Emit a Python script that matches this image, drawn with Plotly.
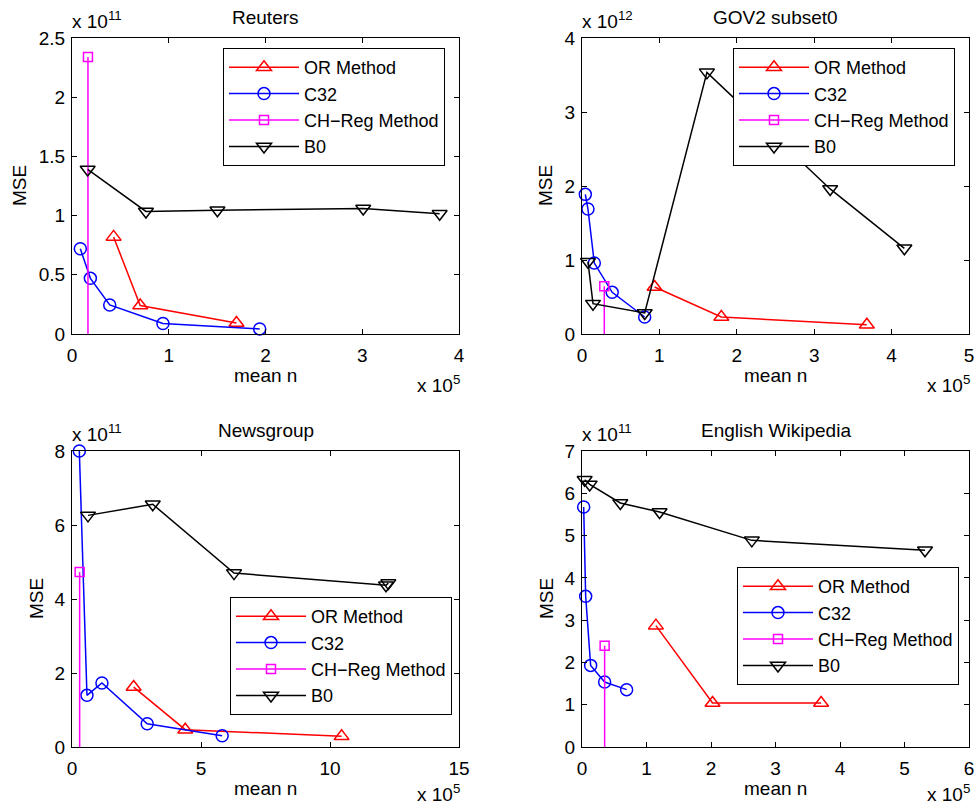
import plotly.graph_objects as go

W, H = 977, 807
FONT = "Liberation Sans, Arial, Helvetica, sans-serif"
FS = 19
LFS = 18

# ---------------- data (x in units of 1e5, y in units of 1e11 / 1e12) ----------------
series_names = ["OR Method", "C32", "CH\u2212Reg Method", "B0"]
titles = ["Reuters", "GOV2 subset0", "Newsgroup", "English Wikipedia"]
y_exponents = ["11", "12", "11", "11"]
x_exponent = "5"

# Reuters
reuters_or_x = [0.43, 0.705, 1.70]
reuters_or_y = [0.82, 0.24, 0.093]
reuters_c32_x = [0.086, 0.19, 0.39, 0.94, 1.94]
reuters_c32_y = [0.72, 0.47, 0.245, 0.088, 0.043]
reuters_ch_x = [0.165, 0.165]
reuters_ch_y = [2.34, -1.0]
reuters_b0_x = [0.162, 0.764, 1.503, 3.01, 3.80]
reuters_b0_y = [1.39, 1.035, 1.045, 1.06, 1.015]

# GOV2 subset0
gov2_or_x = [0.938, 1.80, 3.68]
gov2_or_y = [0.635, 0.23, 0.126]
gov2_c32_x = [0.043, 0.077, 0.159, 0.39, 0.81]
gov2_c32_y = [1.887, 1.689, 0.959, 0.563, 0.23]
gov2_ch_x = [0.288, 0.288]
gov2_ch_y = [0.644, -1.0]
gov2_b0_x = [0.077, 0.142, 0.81, 1.614, 3.206, 4.165]
gov2_b0_y = [0.977, 0.41, 0.284, 3.536, 1.96, 1.158]

# Newsgroup
news_or_x = [2.39, 4.39, 10.45]
news_or_y = [1.62, 0.468, 0.288]
news_c32_x = [0.284, 0.58, 1.16, 2.915, 5.82]
news_c32_y = [8.0, 1.396, 1.73, 0.63, 0.306]
news_ch_x = [0.297, 0.297]
news_ch_y = [4.73, -1.0]
news_b0_x = [0.62, 3.13, 6.28, 12.17, 12.26]
news_b0_y = [6.26, 6.56, 4.70, 4.37, 4.43]

# English Wikipedia
wiki_or_x = [1.146, 2.024, 3.707]
wiki_or_y = [2.87, 1.04, 1.04]
wiki_c32_x = [0.026, 0.057, 0.134, 0.351, 0.692]
wiki_c32_y = [5.676, 3.563, 1.93, 1.537, 1.356]
wiki_ch_x = [0.351, 0.351]
wiki_ch_y = [2.396, -1.0]
wiki_b0_x = [0.041, 0.119, 0.594, 1.203, 2.633, 5.318]
wiki_b0_y = [6.32, 6.21, 5.77, 5.557, 4.887, 4.651]

x_ranges = [[0, 4], [0, 5], [0, 15], [0, 6]]
x_dticks = [1, 1, 5, 1]
y_ranges = [[0, 2.5], [0, 4], [0, 8], [0, 7]]
y_dticks = [0.5, 1, 2, 1]

panels = [
    [(reuters_or_x, reuters_or_y), (reuters_c32_x, reuters_c32_y), (reuters_ch_x, reuters_ch_y), (reuters_b0_x, reuters_b0_y)],
    [(gov2_or_x, gov2_or_y), (gov2_c32_x, gov2_c32_y), (gov2_ch_x, gov2_ch_y), (gov2_b0_x, gov2_b0_y)],
    [(news_or_x, news_or_y), (news_c32_x, news_c32_y), (news_ch_x, news_ch_y), (news_b0_x, news_b0_y)],
    [(wiki_or_x, wiki_or_y), (wiki_c32_x, wiki_c32_y), (wiki_ch_x, wiki_ch_y), (wiki_b0_x, wiki_b0_y)],
]

colors = ["#FF0000", "#0000FF", "#FF00FF", "#000000"]
symbols = ["triangle-up-open", "circle-open", "square-open", "triangle-down-open"]
msizes = [13, 12, 9, 13]

# ---------------- layout geometry (pixels) ----------------
def px(x):
    return x / W

def py(y):
    return 1 - y / H

# plot areas: (left, right, top, bottom) in pixels
areas = [(72, 459, 38, 334), (582, 969, 38, 334), (72, 459, 451, 747), (582, 969, 451, 747)]
legend_pos = [(223, 48), (733, 48), (230, 597), (737, 567)]
ylabel_x = [20, 546, 36, 546]
xexp_bottom = [398, 398, 807, 807]

fig = go.Figure()
annotations = []
layout_axes = {}

for i, (area, data) in enumerate(zip(areas, panels)):
    l, r, t, b = area
    k = "" if i == 0 else str(i + 1)
    leg = "legend" if i == 0 else "legend" + str(i + 1)
    for j, (xs, ys) in enumerate(data):
        fig.add_trace(go.Scatter(
            x=xs, y=ys, mode="lines+markers", name=series_names[j],
            line=dict(color=colors[j], width=1.5),
            marker=dict(symbol=symbols[j], size=msizes[j], color=colors[j],
                        line=dict(width=1.5, color=colors[j])),
            xaxis="x" + k, yaxis="y" + k, legend=leg,
            cliponaxis=(j == 2),
        ))
    axstyle = dict(showgrid=False, zeroline=False, showline=True, linecolor="black",
                   linewidth=1, mirror="allticks", ticks="inside", ticklen=5,
                   tickwidth=1, tickcolor="black", automargin=False,
                   tickfont=dict(family=FONT, size=FS, color="black"))
    layout_axes["xaxis" + k] = dict(domain=[px(l), px(r)], range=x_ranges[i], dtick=x_dticks[i],
                                    tick0=0, anchor="y" + k, ticklabelstandoff=4, **axstyle)
    layout_axes["yaxis" + k] = dict(domain=[py(b), py(t)], range=y_ranges[i], dtick=y_dticks[i],
                                    tick0=0, anchor="x" + k, ticklabelstandoff=2, **axstyle)
    cx = (l + r) / 2
    # title
    annotations.append(dict(text=titles[i], x=px(cx), y=py(t - 21), xref="paper", yref="paper",
                            xanchor="center", yanchor="middle", showarrow=False,
                            font=dict(family=FONT, size=FS, color="black")))
    # x label
    annotations.append(dict(text="mean n", x=px(cx), y=py(b + 41), xref="paper", yref="paper",
                            xanchor="center", yanchor="middle", showarrow=False,
                            font=dict(family=FONT, size=FS, color="black")))
    # y label
    annotations.append(dict(text="MSE", x=px(ylabel_x[i]), y=py((t + b) / 2), xref="paper", yref="paper",
                            xanchor="center", yanchor="middle", showarrow=False, textangle=-90,
                            font=dict(family=FONT, size=FS, color="black")))
    # y exponent
    annotations.append(dict(text="x 10<sup>" + y_exponents[i] + "</sup>", x=px(l - 2), y=py(t - 4),
                            xref="paper", yref="paper", xanchor="left", yanchor="bottom",
                            showarrow=False, font=dict(family=FONT, size=FS, color="black")))
    # x exponent
    annotations.append(dict(text="x 10<sup>" + x_exponent + "</sup>", x=px(r + 3), y=py(xexp_bottom[i]),
                            xref="paper", yref="paper", xanchor="right", yanchor="bottom",
                            showarrow=False, font=dict(family=FONT, size=FS, color="black")))
    lx, ly = legend_pos[i]
    layout_axes[leg] = dict(x=px(lx), y=py(ly), xanchor="left", yanchor="top",
                            bordercolor="black", borderwidth=1, bgcolor="white",
                            font=dict(family=FONT, size=LFS, color="black"),
                            tracegroupgap=0, itemwidth=70)

fig.update_layout(
    width=W, height=H, autosize=False,
    margin=dict(l=0, r=0, t=0, b=0, pad=0),
    paper_bgcolor="white", plot_bgcolor="white",
    annotations=annotations,
    **layout_axes,
)

fig.write_html("out.html",
               post_script="document.body.style.margin='0';document.body.style.overflow='hidden';")
